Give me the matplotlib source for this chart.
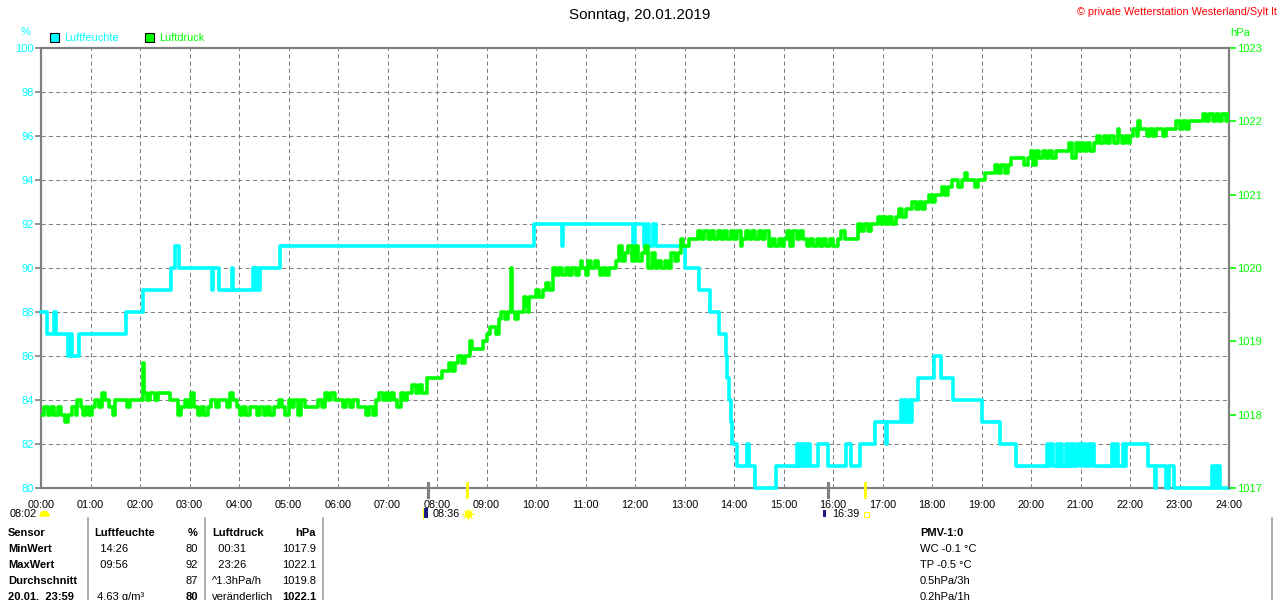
import matplotlib
matplotlib.use("Agg")
import matplotlib.pyplot as plt
from matplotlib.patches import Rectangle, Wedge

plt.rcParams["font.family"] = ["Liberation Sans", "DejaVu Sans"]

CYAN = "#00FFFF"
GREEN = "#00FF00"
GREY = "#808080"

# Luftfeuchte (%) - change points, minutes after midnight
hum_min = [0, 7, 16, 18, 33, 35, 37, 46, 103, 124, 158, 163, 167, 207, 209, 216,
           231, 233, 257, 259, 261, 263, 265, 290, 597, 631, 633, 718, 720, 731,
           735, 737, 742, 745, 781, 798, 811, 822, 830, 832, 834, 836, 838, 844,
           856, 858, 866, 891, 916, 918, 920, 922, 925, 927, 930, 932, 942, 954,
           976, 982, 993, 1011, 1024, 1026, 1043, 1045, 1047, 1049, 1052, 1054,
           1056, 1063, 1082, 1091, 1106, 1140, 1162, 1182,
           1219, 1221, 1223, 1227, 1231, 1234, 1236, 1238, 1243, 1245, 1247, 1249,
           1251, 1253, 1257, 1260, 1262, 1265, 1269, 1271, 1273, 1276,
           1298, 1301, 1303, 1305, 1311, 1313, 1315, 1342, 1350, 1352, 1364, 1367,
           1373, 1419, 1421, 1423, 1425, 1427, 1429, 1440]
hum_val = [88, 87, 88, 87, 86, 87, 86, 87, 88, 89, 90, 91, 90, 89, 90, 89,
           90, 89, 90, 89, 90, 89, 90, 91, 92, 91, 92, 91, 92, 91,
           92, 91, 92, 91, 90, 89, 88, 87, 86, 85, 84, 83, 82, 81,
           82, 81, 80, 81, 82, 81, 82, 81, 82, 81, 82, 81, 82, 81,
           82, 81, 82, 83, 82, 83, 84, 83, 84, 83, 84, 83,
           84, 85, 86, 85, 84, 83, 82, 81,
           82, 81, 82, 81, 82, 81, 82, 81, 82, 81, 82, 81,
           82, 81, 82, 81, 82, 81, 82, 81, 82, 81,
           82, 81, 82, 81, 82, 81, 82, 81, 80, 81, 80, 81,
           80, 81, 80, 81, 80, 81, 80, 80]

# Luftdruck (hPa), one row per hour
p_min = [0, 4, 8, 12, 16, 20, 24, 29, 33, 38, 42, 44, 48, 51, 55, 58,
         62, 66, 70, 74, 77, 82, 87, 90, 96, 104, 108, 114, 118,
         122, 124, 125, 128, 132, 138, 142, 148, 152, 156, 160, 166, 170, 174, 178,
         182, 186, 190, 194, 198, 202, 206, 212, 216, 220, 225, 229, 233, 237,
         241, 245, 249, 253, 258, 262, 266, 270, 274, 278, 282, 289, 292, 296,
         300, 303, 307, 311, 315, 320, 326, 332, 336, 340, 344, 348, 352, 356,
         362, 366, 370, 374, 378, 384, 390, 394, 398, 402, 406, 410, 414, 418,
         420, 424, 428, 432, 436, 440, 444, 450, 454, 458, 462, 468, 474, 478,
         482, 486, 490, 494, 498, 502, 506, 510, 514, 520, 522, 526, 532, 536,
         540, 544, 548, 552, 555, 558, 562, 566, 570, 571, 574, 578, 582, 586, 588, 590, 592, 596,
         600, 604, 608, 612, 616, 620, 624, 628, 632, 636, 640, 644, 648, 652, 654, 656,
         660, 663, 667, 671, 675, 678, 681, 685, 688, 694, 697, 700, 704, 708, 712, 716,
         720, 724, 728, 732, 736, 740, 744, 748, 752, 756, 760, 764, 768, 772, 776, 778,
         780, 786, 790, 796, 800, 804, 808, 812, 816, 820, 824, 828, 832, 836,
         840, 844, 848, 850, 854, 858, 862, 866, 870, 874, 878, 882, 886, 890, 894, 898,
         900, 904, 908, 912, 916, 920, 924, 928, 932, 936, 940, 944, 948, 952, 956,
         960, 966, 970, 974, 980, 986, 990, 994, 998, 1002, 1006, 1010, 1014, 1018,
         1020, 1024, 1028, 1032, 1036, 1040, 1044, 1048, 1052, 1056, 1060, 1064, 1068, 1072, 1076,
         1080, 1084, 1088, 1092, 1096, 1100, 1104, 1108, 1112, 1116, 1120, 1122, 1128, 1132, 1136,
         1140, 1144, 1150, 1156, 1160, 1164, 1168, 1172, 1176, 1182, 1188, 1192, 1196,
         1200, 1203, 1206, 1210, 1214, 1218, 1222, 1226, 1230, 1236, 1242, 1246, 1250, 1254, 1258,
         1260, 1264, 1268, 1272, 1276, 1280, 1284, 1288, 1292, 1296, 1300, 1305, 1307, 1310, 1314, 1318,
         1320, 1324, 1328, 1330, 1332, 1336, 1340, 1344, 1348, 1352, 1356, 1360, 1364, 1368, 1372, 1376,
         1380, 1384, 1388, 1392, 1396, 1400, 1404, 1408, 1412, 1416, 1420, 1424, 1428, 1432, 1436, 1439]
p_hpa = [1018.0, 1018.1, 1018.0, 1018.1, 1018.0, 1018.1, 1018.0, 1017.9, 1018.0, 1018.1, 1018.0, 1018.2, 1018.1, 1018.0, 1018.1, 1018.0,
         1018.1, 1018.2, 1018.1, 1018.3, 1018.2, 1018.1, 1018.0, 1018.2, 1018.2, 1018.1, 1018.2, 1018.2, 1018.2,
         1018.2, 1018.7, 1018.3, 1018.2, 1018.3, 1018.2, 1018.3, 1018.3, 1018.3, 1018.2, 1018.2, 1018.0, 1018.1, 1018.2, 1018.1,
         1018.3, 1018.1, 1018.0, 1018.1, 1018.0, 1018.1, 1018.2, 1018.1, 1018.2, 1018.2, 1018.1, 1018.3, 1018.2, 1018.1,
         1018.0, 1018.1, 1018.0, 1018.1, 1018.1, 1018.0, 1018.1, 1018.0, 1018.1, 1018.0, 1018.1, 1018.2, 1018.1, 1018.0,
         1018.2, 1018.1, 1018.2, 1018.0, 1018.2, 1018.1, 1018.1, 1018.1, 1018.2, 1018.1, 1018.3, 1018.2, 1018.3, 1018.2,
         1018.2, 1018.1, 1018.2, 1018.1, 1018.2, 1018.1, 1018.1, 1018.0, 1018.1, 1018.0, 1018.2, 1018.3, 1018.2, 1018.3,
         1018.2, 1018.3, 1018.2, 1018.1, 1018.3, 1018.2, 1018.3, 1018.4, 1018.3, 1018.4, 1018.3, 1018.5, 1018.5, 1018.5,
         1018.5, 1018.6, 1018.6, 1018.7, 1018.6, 1018.7, 1018.8, 1018.7, 1018.8, 1019.0, 1018.9, 1018.9, 1018.9, 1019.0,
         1019.1, 1019.2, 1019.2, 1019.1, 1019.3, 1019.4, 1019.3, 1019.4, 1020.0, 1019.4, 1019.3, 1019.4, 1019.4, 1019.6, 1019.5, 1019.4, 1019.6, 1019.6,
         1019.7, 1019.6, 1019.7, 1019.8, 1019.7, 1020.0, 1019.9, 1020.0, 1019.9, 1020.0, 1019.9, 1020.0, 1019.9, 1020.0, 1020.1, 1020.0,
         1019.9, 1020.1, 1020.0, 1020.1, 1020.0, 1019.9, 1020.0, 1019.9, 1020.0, 1020.0, 1020.1, 1020.3, 1020.1, 1020.2, 1020.3, 1020.1,
         1020.3, 1020.1, 1020.2, 1020.3, 1020.0, 1020.2, 1020.0, 1020.1, 1020.0, 1020.1, 1020.0, 1020.2, 1020.1, 1020.2, 1020.4, 1020.3,
         1020.3, 1020.4, 1020.4, 1020.5, 1020.4, 1020.5, 1020.4, 1020.5, 1020.4, 1020.5, 1020.4, 1020.5, 1020.4, 1020.5,
         1020.4, 1020.5, 1020.3, 1020.4, 1020.5, 1020.4, 1020.5, 1020.4, 1020.5, 1020.4, 1020.5, 1020.3, 1020.4, 1020.3, 1020.4, 1020.3,
         1020.4, 1020.5, 1020.3, 1020.5, 1020.4, 1020.5, 1020.4, 1020.3, 1020.4, 1020.3, 1020.4, 1020.3, 1020.4, 1020.3, 1020.4,
         1020.3, 1020.4, 1020.5, 1020.4, 1020.4, 1020.4, 1020.6, 1020.5, 1020.6, 1020.5, 1020.6, 1020.6, 1020.7, 1020.6,
         1020.7, 1020.6, 1020.7, 1020.6, 1020.7, 1020.8, 1020.7, 1020.8, 1020.8, 1020.9, 1020.8, 1020.9, 1020.8, 1020.9, 1021.0,
         1020.9, 1021.0, 1021.0, 1021.1, 1021.0, 1021.1, 1021.2, 1021.2, 1021.1, 1021.2, 1021.3, 1021.2, 1021.2, 1021.1, 1021.2,
         1021.2, 1021.3, 1021.3, 1021.4, 1021.3, 1021.4, 1021.3, 1021.4, 1021.5, 1021.5, 1021.5, 1021.4, 1021.5,
         1021.6, 1021.4, 1021.6, 1021.5, 1021.6, 1021.5, 1021.6, 1021.5, 1021.6, 1021.6, 1021.6, 1021.7, 1021.5, 1021.7, 1021.6,
         1021.7, 1021.6, 1021.7, 1021.6, 1021.7, 1021.8, 1021.7, 1021.8, 1021.7, 1021.8, 1021.7, 1021.9, 1021.8, 1021.7, 1021.8, 1021.7,
         1021.8, 1021.9, 1021.8, 1022.0, 1021.9, 1021.9, 1021.8, 1021.9, 1021.8, 1021.9, 1021.9, 1021.8, 1021.9, 1021.9, 1021.9, 1022.0,
         1021.9, 1022.0, 1021.9, 1022.0, 1022.0, 1022.0, 1022.0, 1022.1, 1022.0, 1022.1, 1022.0, 1022.1, 1022.0, 1022.1, 1022.0, 1022.1]

hour_labels = [f"{h:02d}:00" for h in range(25)]
hum_ticks = list(range(80, 101, 2))
p_ticks = list(range(1017, 1024))

# sun / twilight markers on the time axis (hours)
twilight_h = [7.82, 15.9]
sun_h = [8.6, 16.65]

# table below the chart
table_rows = [
    ("Sensor", "Luftfeuchte", "%", "Luftdruck", "hPa"),
    ("MinWert", "  14:26", "80", "  00:31", "1017.9"),
    ("MaxWert", "  09:56", "92", "  23:26", "1022.1"),
    ("Durchschnitt", "", "87", "^1.3hPa/h", "1019.8"),
    ("20.01.  23:59", " 4.63 g/m³", "80", "veränderlich", "1022.1"),
]
pmv_lines = ["PMV-1:0", "WC -0.1 °C", "TP -0.5 °C", "0.5hPa/3h", "0.2hPa/1h"]

W, H = 1280, 600
fig = plt.figure(figsize=(W / 100, H / 100), dpi=100)
ax = fig.add_axes([41 / W, 1 - 488 / H, 1188 / W, 440 / H])
ax2 = ax.twinx()

hx = [m / 60 for m in hum_min]
ax.step(hx, hum_val, where="post", color=CYAN, lw=2.6, zorder=3, clip_on=False)
px_ = [m / 60 for m in p_min] + [24]
ax2.step(px_, p_hpa + [p_hpa[-1]], where="post", color=GREEN, lw=2.6, zorder=3)

ax.set_xlim(0, 24)
ax.set_ylim(80, 100)
ax2.set_ylim(1017, 1023)
ax.set_xticks(range(25))
ax.set_xticklabels(hour_labels)
ax.set_yticks(hum_ticks)
ax2.set_yticks(p_ticks)

ax.grid(True, color=GREY, lw=0.75, ls=(0, (4, 3)))
ax.tick_params(axis="x", length=0, pad=9, labelsize=7.8, labelcolor="black")
ax.tick_params(axis="y", length=4, width=1.2, color=GREY, pad=1,
               labelsize=8, labelcolor=CYAN)
ax2.tick_params(axis="y", length=5, width=1.2, color=GREEN, pad=1,
                labelsize=8, labelcolor=GREEN)
for s in ax.spines.values():
    s.set_color(GREY)
    s.set_linewidth(1.6)
ax.spines["right"].set_visible(False)
for name, s in ax2.spines.items():
    s.set_visible(name == "right")
    s.set_color(GREY)
    s.set_linewidth(1.6)

tr = ax.get_xaxis_transform()
for t in twilight_h:
    ax.plot([t, t], [0.012, -0.02], color=GREY, lw=2.2, transform=tr, clip_on=False, zorder=4)
for t in sun_h:
    ax.plot([t, t], [0.012, -0.02], color="#FFFF00", lw=2.0, transform=tr, clip_on=False, zorder=4)

# overlay in pixel coordinates for header, legend, icons and table
ov = fig.add_axes([0, 0, 1, 1])
ov.set_xlim(0, W)
ov.set_ylim(H, 0)
ov.axis("off")

ov.text(640, 15, "Sonntag, 20.01.2019", ha="center", va="center", fontsize=11)
ov.text(1277, 12, "© private Wetterstation Westerland/Sylt lt", ha="right",
        va="center", fontsize=7.8, color="red")
ov.text(26, 32, "%", ha="center", va="center", fontsize=8, color=CYAN)
ov.text(1240, 33, "hPa", ha="center", va="center", fontsize=8, color=GREEN)

ov.add_patch(Rectangle((50, 33), 9, 9, facecolor=CYAN, edgecolor="black", lw=0.8))
ov.text(64, 38, "Luftfeuchte", va="center", fontsize=7.8, color=CYAN)
ov.add_patch(Rectangle((145, 33), 9, 9, facecolor=GREEN, edgecolor="black", lw=0.8))
ov.text(159, 38, "Luftdruck", va="center", fontsize=7.8, color=GREEN)

# sunrise / sunset annotations
ov.text(10, 514, "08:02", va="center", fontsize=7.8)
ov.add_patch(Wedge((44.5, 516), 4.5, 180, 360, color="#FFFF00"))
ov.add_patch(Rectangle((423, 508), 4.5, 9.5, facecolor="#1a1a80", edgecolor="none"))
ov.plot([423, 423], [508, 517.5], color="#FFFF00", lw=0.8)
ov.text(433, 514, "08:36", va="center", fontsize=7.8)
ov.plot([467.5], [513.5], marker="o", ms=4.5, color="#FFFF00")
ov.plot([467.5], [513.5], marker="+", ms=8, mew=0.8, color="#FFFF00")
ov.plot([467.5], [513.5], marker="x", ms=6, mew=0.8, color="#FFFF00")
ov.add_patch(Rectangle((823, 510), 3, 7, facecolor="#1a1a80", edgecolor="none"))
ov.text(832, 514, "16:39", va="center", fontsize=7.8)
ov.add_patch(Rectangle((863.5, 511.5), 5, 5, facecolor="none", edgecolor="#FFFF00", lw=0.8))

# table
for xs in (88, 205, 323, 1272):
    ov.plot([xs, xs], [518, 600], color="#A0A0A0", lw=1.2)
row_y = [533, 549, 565, 581, 597]
for i, (y, row) in enumerate(zip(row_y, table_rows)):
    head = i == 0
    ov.text(8, y, row[0], va="center", fontsize=8, fontweight="bold")
    ov.text(94, y, row[1], va="center", fontsize=8, fontweight="bold" if head else "normal")
    ov.text(198, y, row[2], va="center", ha="right", fontsize=8,
            fontweight="bold" if head or i == 4 else "normal")
    ov.text(212, y, row[3], va="center", fontsize=8, fontweight="bold" if head else "normal")
    ov.text(316, y, row[4], va="center", ha="right", fontsize=8,
            fontweight="bold" if head or i == 4 else "normal")
for i, (y, s) in enumerate(zip(row_y, pmv_lines)):
    ov.text(920, y, s, va="center", fontsize=8, fontweight="bold" if i == 0 else "normal")

fig.savefig("out.png", dpi=100)
plt.close(fig)
